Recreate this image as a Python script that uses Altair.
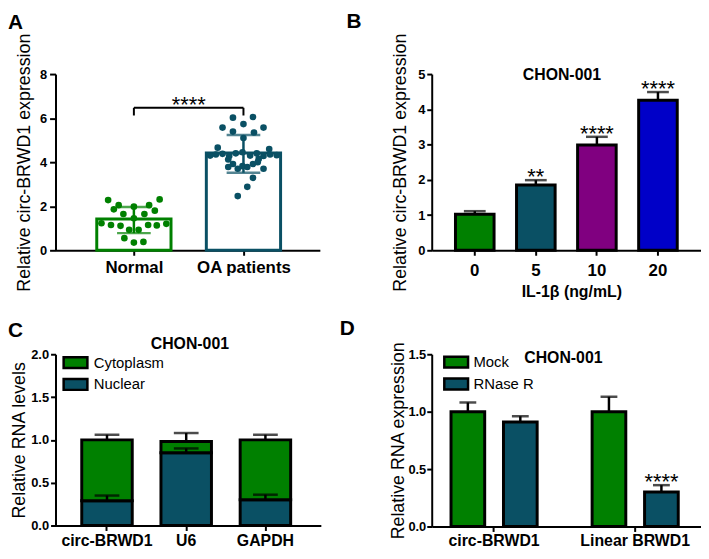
import altair as alt
import pandas as pd

FONT = "Liberation Sans"
GREEN = "#008000"
TEAL = "#0a5064"
PURPLE = "#800080"
BLUE = "#0000c8"

panel_letters = ["A", "B", "C", "D"]
cell_line = "CHON-001"

# ---------------- Panel A data ----------------
a_groups = ["Normal", "OA patients"]
a_means = [1.42, 4.42]
a_sd_low = [0.78, 3.52]
a_sd_high = [1.97, 5.23]
a_colors = [GREEN, TEAL]
a_normal_dx = [-0.235, 0.235, -0.139, 0.139, -0.183, 0.0, 0.191, -0.096, 0.096, 0.0,
               -0.296, -0.209, -0.122, 0.130, 0.209, 0.296, -0.043, 0.043, -0.087, 0.0, 0.087]
a_normal_val = [2.28, 2.31, 2.05, 2.05, 1.86, 1.98, 1.80, 1.65, 1.65, 1.45,
                1.23, 1.15, 1.11, 1.15, 1.13, 1.20, 0.93, 0.93, 0.55, 0.35, 0.38]
a_oa_dx = [-0.096, 0.087, 0.0, -0.191, 0.183, -0.096, 0.096, 0.0, -0.235, 0.235,
           -0.304, -0.252, -0.191, -0.130, -0.070, -0.009, 0.061, 0.122, 0.183, 0.243, 0.304, -0.139, 0.139,
           -0.139, -0.096, -0.052, -0.009, 0.035, 0.087, 0.130, 0.183, 0.087, 0.035, -0.052]
a_oa_val = [6.02, 6.05, 5.73, 5.57, 5.57, 5.39, 5.35, 5.10, 4.66, 4.60,
            4.30, 4.35, 4.38, 4.28, 4.40, 4.45, 4.30, 4.40, 4.28, 4.35, 4.32, 4.12, 4.15,
            3.78, 3.92, 3.70, 3.82, 3.78, 3.92, 4.00, 3.70, 3.29, 2.88, 2.46]
a_bracket_y = 6.47
a_bracket_drop = 6.12
a_sig = "****"

# ---------------- Panel B data ----------------
b_doses = ["0", "5", "10", "20"]
b_means = [1.02, 1.85, 2.99, 4.26]
b_sem = [0.09, 0.14, 0.23, 0.23]
b_colors = [GREEN, TEAL, PURPLE, BLUE]
b_sig = ["", "**", "****", "****"]

# ---------------- Panel C data ----------------
c_genes = ["circ-BRWD1", "U6", "GAPDH"]
c_fractions = ["Cytoplasm", "Nuclear"]
c_nuclear = [0.29, 0.85, 0.30]
c_nuclear_sem = [0.06, 0.05, 0.06]
c_cyto = [0.71, 0.13, 0.70]
c_total_sem = [0.06, 0.10, 0.06]

# ---------------- Panel D data ----------------
d_genes = ["circ-BRWD1", "Linear BRWD1"]
d_treat = ["Mock", "RNase R"]
d_mock = [1.00, 1.00]
d_mock_sem = [0.08, 0.13]
d_rnase = [0.91, 0.30]
d_rnase_sem = [0.05, 0.06]
d_sig_mock = ["", ""]
d_sig_rnase = ["", "****"]


def yaxis(title, values, fmt, title_x, label_pad, tick_size):
    return alt.Axis(title=title, values=values, format=fmt, grid=False,
                    domainColor="black", domainWidth=2, tickColor="black", tickWidth=2,
                    tickSize=tick_size, labelFont=FONT, labelFontSize=13, labelFontWeight="bold",
                    labelColor="black", labelPadding=label_pad, labelFlush=False,
                    titleFont=FONT, titleFontSize=18, titleFontWeight="normal",
                    titleColor="black", titleX=title_x)


def xaxis_common(**kw):
    base = dict(grid=False, domainColor="black", domainWidth=2, tickColor="black", tickWidth=2,
                tickSize=5, labelFont=FONT, labelFontSize=17, labelFontWeight="bold",
                labelColor="black", labelAngle=0, labelFlush=False)
    base.update(kw)
    return alt.Axis(**base)


def letter(txt, x, y):
    return alt.Chart(pd.DataFrame({"t": [txt]})).mark_text(
        font=FONT, fontSize=21, fontWeight="bold", align="left", baseline="alphabetic",
        color="black").encode(text="t:N", x=alt.value(x), y=alt.value(y))


def heading(txt, x, y):
    return alt.Chart(pd.DataFrame({"t": [txt]})).mark_text(
        font=FONT, fontSize=16, fontWeight="bold", align="center", baseline="alphabetic",
        color="black").encode(text="t:N", x=alt.value(x), y=alt.value(y))


STAR = dict(font=FONT, fontSize=22, align="center", baseline="alphabetic", dy=4, color="black")

# ================= Panel A =================
WA, HA = 267, 178
xa_scale = alt.Scale(domain=[-0.670, 1.652], nice=False, zero=False)
ya_scale = alt.Scale(domain=[0, 8], nice=False)
label_expr = "[" + ",".join("'" + g + "'" for g in a_groups) + "][datum.value]"
xa_axis = xaxis_common(values=list(range(len(a_groups))), labelExpr=label_expr, title=None, labelPadding=4)
ya_axis = yaxis("Relative circ-BRWD1 expression", [0, 2, 4, 6, 8], "d", -22, 3, 6)


def XA(f):
    return alt.X(f, scale=xa_scale, axis=xa_axis)


def YA(f):
    return alt.Y(f, scale=ya_scale, axis=ya_axis)


dfA = pd.DataFrame({"pos": list(range(len(a_groups))), "group": a_groups, "mean": a_means,
                    "lo": a_sd_low, "hi": a_sd_high, "color": a_colors})
dot_rows = []
for i, (dxs, vals) in enumerate([(a_normal_dx, a_normal_val), (a_oa_dx, a_oa_val)]):
    for dx, v in zip(dxs, vals):
        dot_rows.append({"xpos": i + dx, "value": v, "color": a_colors[i]})
dfA_dots = pd.DataFrame(dot_rows)
cap_rows = []
for i in range(len(a_groups)):
    cap_rows.append({"pos": i, "cap": a_sd_low[i], "color": a_colors[i]})
    cap_rows.append({"pos": i, "cap": a_sd_high[i], "color": a_colors[i]})
dfA_caps = pd.DataFrame(cap_rows)
dfA_br_h = pd.DataFrame({"x0": [0], "x1": [1], "y": [a_bracket_y]})
dfA_br_v = pd.DataFrame({"x": [0, 1], "y": [a_bracket_drop] * 2, "y2": [a_bracket_y] * 2})
dfA_sig = pd.DataFrame({"x": [0.5], "y": [a_bracket_y], "t": [a_sig]})

barsA = alt.Chart(dfA).mark_bar(size=75, fill="white", strokeWidth=3).encode(
    x=XA("pos:Q"), y=YA("mean:Q"), stroke=alt.Stroke("color:N", scale=None))
dotsA = alt.Chart(dfA_dots).mark_circle(size=45, opacity=1).encode(
    x=XA("xpos:Q"), y=YA("value:Q"), color=alt.Color("color:N", scale=None))
errA = alt.Chart(dfA).mark_rule(strokeWidth=2.5).encode(
    x=XA("pos:Q"), y=YA("lo:Q"), y2="hi:Q", color=alt.Color("color:N", scale=None))
capsA = alt.Chart(dfA_caps).mark_tick(size=34, thickness=2.5, orient="horizontal").encode(
    x=XA("pos:Q"), y=YA("cap:Q"), color=alt.Color("color:N", scale=None))
brH = alt.Chart(dfA_br_h).mark_rule(strokeWidth=2, color="black").encode(
    x=XA("x0:Q"), x2="x1:Q", y=YA("y:Q"))
brV = alt.Chart(dfA_br_v).mark_rule(strokeWidth=2, color="black").encode(
    x=XA("x:Q"), y=YA("y:Q"), y2="y2:Q")
sigA = alt.Chart(dfA_sig).mark_text(**STAR).encode(x=XA("x:Q"), y=YA("y:Q"), text="t:N")

panelA = alt.layer(barsA, dotsA, errA, capsA, brH, brV, sigA,
                   letter(panel_letters[0], -48, -46)).properties(width=WA, height=HA)

# ================= Panel B =================
WB, HB = 272, 178
dfB = pd.DataFrame({"dose": b_doses, "mean": b_means,
                    "top": [m + s for m, s in zip(b_means, b_sem)],
                    "color": b_colors, "sig": b_sig})
xb = alt.X("dose:N", sort=b_doses, scale=alt.Scale(paddingInner=0.368, paddingOuter=0.389),
           axis=xaxis_common(title="IL-1β (ng/mL)", labelPadding=7.5, titleFont=FONT,
                             titleFontSize=16, titleFontWeight="bold", titleColor="black",
                             titleY=34, titleX=141))
yb_scale = alt.Scale(domain=[0, 5], nice=False)
yb_axis = yaxis("Relative circ-BRWD1 expression", [0, 1, 2, 3, 4, 5], "d", -22, 2, 5)

barsB = alt.Chart(dfB).mark_bar(stroke="black", strokeWidth=3).encode(
    x=xb, y=alt.Y("mean:Q", scale=yb_scale, axis=yb_axis), fill=alt.Fill("color:N", scale=None))
errB = alt.Chart(dfB).mark_rule(strokeWidth=2.5, color="black").encode(
    x=xb, y=alt.Y("mean:Q", scale=yb_scale, axis=yb_axis), y2="top:Q")
capB = alt.Chart(dfB).mark_tick(size=22, thickness=2.5, color="black", orient="horizontal").encode(
    x=xb, y=alt.Y("top:Q", scale=yb_scale, axis=yb_axis))
sigB = alt.Chart(dfB).mark_text(**STAR).encode(
    x=xb, y=alt.Y("top:Q", scale=yb_scale, axis=yb_axis), text="sig:N")

panelB = alt.layer(barsB, errB, capB, sigB, heading(cell_line, 131.5, 6.3),
                   letter(panel_letters[1], -86, -46.5)).properties(width=WB, height=HB)

# ================= Panel C =================
WC, HC = 268, 173
c_rows = []
for i, g in enumerate(c_genes):
    c_rows.append({"gene": g, "fraction": "Nuclear", "value": c_nuclear[i], "ord": 0})
    c_rows.append({"gene": g, "fraction": "Cytoplasm", "value": c_cyto[i], "ord": 1})
dfC = pd.DataFrame(c_rows)
ce_rows = []
for i, g in enumerate(c_genes):
    total = c_nuclear[i] + c_cyto[i]
    ce_rows.append({"gene": g, "base": c_nuclear[i], "top": c_nuclear[i] + c_nuclear_sem[i]})
    ce_rows.append({"gene": g, "base": total, "top": total + c_total_sem[i]})
dfC_err = pd.DataFrame(ce_rows)

xc = alt.X("gene:N", sort=c_genes,
           scale=alt.Scale(paddingInner=0.3625, paddingOuter=0.356, align=0.465),
           axis=xaxis_common(title=None, labelPadding=2, labelFontSize=16))
yc_scale = alt.Scale(domain=[0, 2], nice=False)
yc_axis = yaxis("Relative RNA levels", [0, 0.5, 1.0, 1.5, 2.0], ".1f", -27, 2, 5)

legC = alt.Legend(orient="none", legendX=8.7, legendY=-3, title=None,
                  symbolType="M-1.2,-0.55H1.2V0.55H-1.2Z", symbolSize=400,
                  symbolStrokeColor="black", symbolStrokeWidth=2.5, symbolOpacity=1,
                  labelFont=FONT, labelFontSize=15, labelColor="black", labelOffset=7,
                  rowPadding=-1, padding=0)
barsC = alt.Chart(dfC).mark_bar(stroke="black", strokeWidth=3).encode(
    x=xc,
    y=alt.Y("value:Q", stack="zero", scale=yc_scale, axis=yc_axis),
    color=alt.Color("fraction:N", scale=alt.Scale(domain=c_fractions, range=[GREEN, TEAL]), legend=legC),
    order=alt.Order("ord:Q"))
errC = alt.Chart(dfC_err).mark_rule(strokeWidth=2.5, color="black").encode(
    x=xc, y=alt.Y("base:Q", scale=yc_scale, axis=yc_axis), y2="top:Q")
capC = alt.Chart(dfC_err).mark_tick(size=25, thickness=2.5, color="black", orient="horizontal").encode(
    x=xc, y=alt.Y("top:Q", scale=yc_scale, axis=yc_axis))

panelC = alt.layer(barsC, errC, capC, heading(cell_line, 135.7, -5.7),
                   letter(panel_letters[2], -48, -17)).properties(width=WC, height=HC)

# ================= Panel D =================
WD, HD = 272, 174
d_rows = []
for i, g in enumerate(d_genes):
    d_rows.append({"gene": g, "treat": d_treat[0], "mean": d_mock[i],
                   "top": d_mock[i] + d_mock_sem[i], "sig": d_sig_mock[i]})
    d_rows.append({"gene": g, "treat": d_treat[1], "mean": d_rnase[i],
                   "top": d_rnase[i] + d_rnase_sem[i], "sig": d_sig_rnase[i]})
dfD = pd.DataFrame(d_rows)

xd = alt.X("gene:N", sort=d_genes,
           scale=alt.Scale(paddingInner=0.3895, paddingOuter=0.149, align=0.459),
           axis=xaxis_common(title=None, labelPadding=1, labelFontSize=16))
xo = alt.XOffset("treat:N", sort=d_treat, scale=alt.Scale(paddingInner=0.358, paddingOuter=0))
yd_scale = alt.Scale(domain=[0, 1.5], nice=False)
yd_axis = yaxis("Relative RNA expression", [0, 0.5, 1.0, 1.5], ".1f", -25, 1, 5)

legD = alt.Legend(orient="none", legendX=13.2, legendY=-3.5, title=None,
                  symbolType="M-1.2,-0.55H1.2V0.55H-1.2Z", symbolSize=400,
                  symbolStrokeColor="black", symbolStrokeWidth=2.5, symbolOpacity=1,
                  labelFont=FONT, labelFontSize=15, labelColor="black", labelOffset=6,
                  rowPadding=-3.3, padding=0)
barsD = alt.Chart(dfD).mark_bar(stroke="black", strokeWidth=3).encode(
    x=xd, xOffset=xo, y=alt.Y("mean:Q", scale=yd_scale, axis=yd_axis),
    color=alt.Color("treat:N", scale=alt.Scale(domain=d_treat, range=[GREEN, TEAL]), legend=legD))
errD = alt.Chart(dfD).mark_rule(strokeWidth=2.5, color="black").encode(
    x=xd, xOffset=xo, y=alt.Y("mean:Q", scale=yd_scale, axis=yd_axis), y2="top:Q")
capD = alt.Chart(dfD).mark_tick(size=17, thickness=2.5, color="black", orient="horizontal").encode(
    x=xd, xOffset=xo, y=alt.Y("top:Q", scale=yd_scale, axis=yd_axis))
sigD = alt.Chart(dfD).mark_text(**STAR).encode(
    x=xd, xOffset=xo, y=alt.Y("top:Q", scale=yd_scale, axis=yd_axis), text="sig:N")

panelD = alt.layer(barsD, errD, capD, sigD, heading(cell_line, 133, 8.7),
                   letter(panel_letters[3], -93, -19)).properties(width=WD, height=HD)

# ================= Layout =================
chart = alt.concat(panelA, panelB, panelC, panelD, columns=2,
                   spacing={"row": 105, "column": 112}, bounds="flush", align="each"
                   ).resolve_scale(color="independent").properties(
    padding={"left": 0, "top": 0, "right": 0, "bottom": 0}
).configure_view(stroke=None)

chart.save("out.html", embed_options={"renderer": "svg", "actions": False})
